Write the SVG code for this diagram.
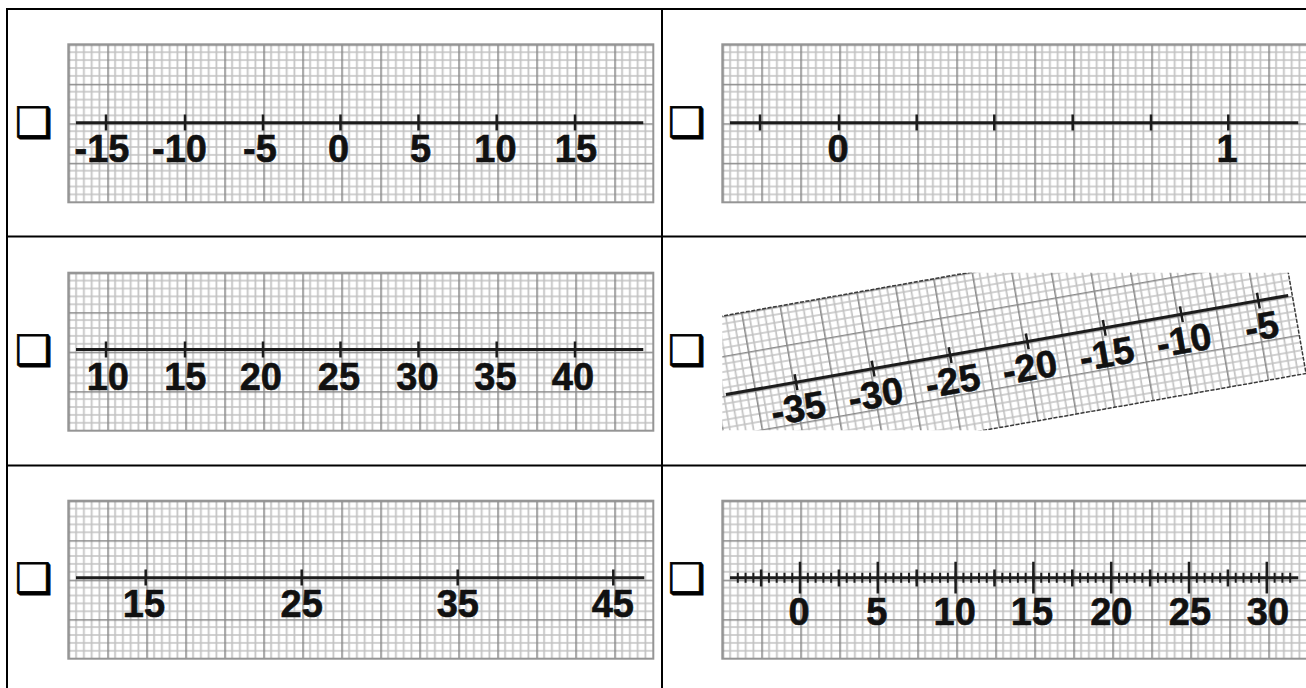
<svg xmlns="http://www.w3.org/2000/svg" width="1306" height="688" viewBox="0 0 1306 688">
<style>
.gb{fill:none;stroke:#959595;stroke-width:2}
.nl{stroke:#1c1c1c;stroke-width:3;fill:none}
.tk{stroke:#1c1c1c;stroke-width:2.5;fill:none}
.lb{font-family:"Liberation Sans",Arial,sans-serif;font-weight:bold;font-size:38px;fill:#111;stroke:#111;stroke-width:0.6;text-anchor:middle}
.cb{font-family:"DejaVu Sans",sans-serif;font-size:42px;fill:#000;stroke:#000;stroke-width:0.8}
.tb{stroke:#000;stroke-width:2;fill:none}
</style>
<defs>
<pattern id="grid" width="39" height="39.5" patternUnits="userSpaceOnUse">
<rect width="39" height="39.5" fill="#fff"/>
<path d="M7.8 0V39.5M15.6 0V39.5M23.4 0V39.5M31.2 0V39.5M0 7.9H39M0 15.8H39M0 23.7H39M0 31.6H39" stroke="#c2c2c2" stroke-width="1.7"/>
<path d="M0.8 0V39.5M0 0.8H39" stroke="#8a8a8a" stroke-width="1.6"/>
</pattern>
<clipPath id="c4"><rect x="722.3" y="272.7" width="584" height="157.5"/></clipPath>
</defs>
<rect width="1306" height="688" fill="#fff"/>
<g id="table">
<path class="tb" d="M6 9H1306M7 8V688M662 8V688M6 236.5H1306M6 465.5H1306"/>
</g>
<g id="p1">
<text class="cb" x="15" y="137">❑</text>
<g transform="translate(68.3 44.3)"><rect width="585" height="158" fill="url(#grid)"/><rect class="gb" width="585" height="158"/></g>
<path class="nl" d="M76 122.7H643.3"/>
<path class="tk" d="M106 114.5V130.5M185 114.5V130.5M263 114.5V130.5M340.5 114.5V130.5M418.5 114.5V130.5M496.7 114.5V130.5M575 114.5V130.5"/>
<text class="lb" x="102" y="161.5">-15</text>
<text class="lb" x="179.5" y="161.5">-10</text>
<text class="lb" x="260" y="161.5">-5</text>
<text class="lb" x="338.5" y="161.5">0</text>
<text class="lb" x="420.5" y="161.5">5</text>
<text class="lb" x="495.5" y="161.5">10</text>
<text class="lb" x="576" y="161.5">15</text>
</g>
<g id="p2">
<text class="cb" x="668" y="137">❑</text>
<g transform="translate(722.3 44.3)"><rect width="585" height="158" fill="url(#grid)"/><rect class="gb" width="585" height="158"/></g>
<path class="nl" d="M730 122.7H1298.3"/>
<path class="tk" d="M760 114.5V130.5M839 114.5V130.5M916.7 114.5V130.5M994.3 114.5V130.5M1072.7 114.5V130.5M1151 114.5V130.5M1228.3 114.5V130.5"/>
<text class="lb" x="838" y="161.7">0</text>
<text class="lb" x="1227" y="161.7">1</text>
</g>
<g id="p3">
<text class="cb" x="15" y="365">❑</text>
<g transform="translate(68.3 272.7)"><rect width="585" height="158" fill="url(#grid)"/><rect class="gb" width="585" height="158"/></g>
<path class="nl" d="M76 349.5H643.3"/>
<path class="tk" d="M106 341.5V357.5M185 341.5V357.5M263 341.5V357.5M340.5 341.5V357.5M418.5 341.5V357.5M496.7 341.5V357.5M575 341.5V357.5"/>
<text class="lb" x="107.8" y="390">10</text>
<text class="lb" x="185.3" y="390">15</text>
<text class="lb" x="260.8" y="390">20</text>
<text class="lb" x="339" y="390">25</text>
<text class="lb" x="417.5" y="390">30</text>
<text class="lb" x="495.5" y="390">35</text>
<text class="lb" x="573" y="390">40</text>
</g>
<g id="p4">
<text class="cb" x="668" y="365">❑</text>
<g clip-path="url(#c4)">
<g transform="translate(702.5 319.5) rotate(-10)">
<rect width="585" height="158" fill="url(#grid)"/>
<rect width="585" height="158" fill="none" stroke="#3a3a3a" stroke-width="1.5" stroke-dasharray="4 1.5"/>
<path class="nl" d="M10 78H581"/>
<path class="tk" d="M81.2 70V86M159.5 70V86M237.7 70V86M316 70V86M394.2 70V86M472.5 70V86M550.7 70V86"/>
<text class="lb" x="79" y="117">-35</text>
<text class="lb" x="157.5" y="117">-30</text>
<text class="lb" x="235.7" y="117">-25</text>
<text class="lb" x="314" y="117">-20</text>
<text class="lb" x="392.2" y="117">-15</text>
<text class="lb" x="470.5" y="117">-10</text>
<text class="lb" x="549.5" y="117">-5</text>
</g>
</g>
</g>
<g id="p5">
<text class="cb" x="15" y="593">❑</text>
<g transform="translate(68.3 500.7)"><rect width="585" height="158" fill="url(#grid)"/><rect class="gb" width="585" height="158"/></g>
<path class="nl" d="M76 577.7H644.3"/>
<path class="tk" d="M145.7 569.5V585.5M301.7 569.5V585.5M457.7 569.5V585.5M613.3 569.5V585.5"/>
<text class="lb" x="144" y="616.7">15</text>
<text class="lb" x="301.7" y="616.7">25</text>
<text class="lb" x="457.8" y="616.7">35</text>
<text class="lb" x="612.8" y="616.7">45</text>
</g>
<g id="p6">
<text class="cb" x="668" y="593">❑</text>
<g transform="translate(722.3 500.7)"><rect width="585" height="158" fill="url(#grid)"/><rect class="gb" width="585" height="158"/></g>
<path class="nl" d="M730 577.7H1298.3"/>
<path d="M736.8 577.7H1292" stroke="#1c1c1c" stroke-width="10" stroke-dasharray="2 5.78" fill="none"/>
<path class="tk" d="M761.1 569.5V586.5M838.9 569.5V586.5M916.7 569.5V586.5M994.5 569.5V586.5M1072.3 569.5V586.5M1150.1 569.5V586.5M1227.9 569.5V586.5"/>
<path class="tk" d="M800 561.7V593.5M877.8 561.7V593.5M955.6 561.7V593.5M1033.4 561.7V593.5M1111.2 561.7V593.5M1189 561.7V593.5M1266.8 561.7V593.5"/>
<text class="lb" x="799" y="625">0</text>
<text class="lb" x="876.7" y="625">5</text>
<text class="lb" x="954.7" y="625">10</text>
<text class="lb" x="1032" y="625">15</text>
<text class="lb" x="1111.3" y="625">20</text>
<text class="lb" x="1190" y="625">25</text>
<text class="lb" x="1268" y="625">30</text>
</g>
</svg>
